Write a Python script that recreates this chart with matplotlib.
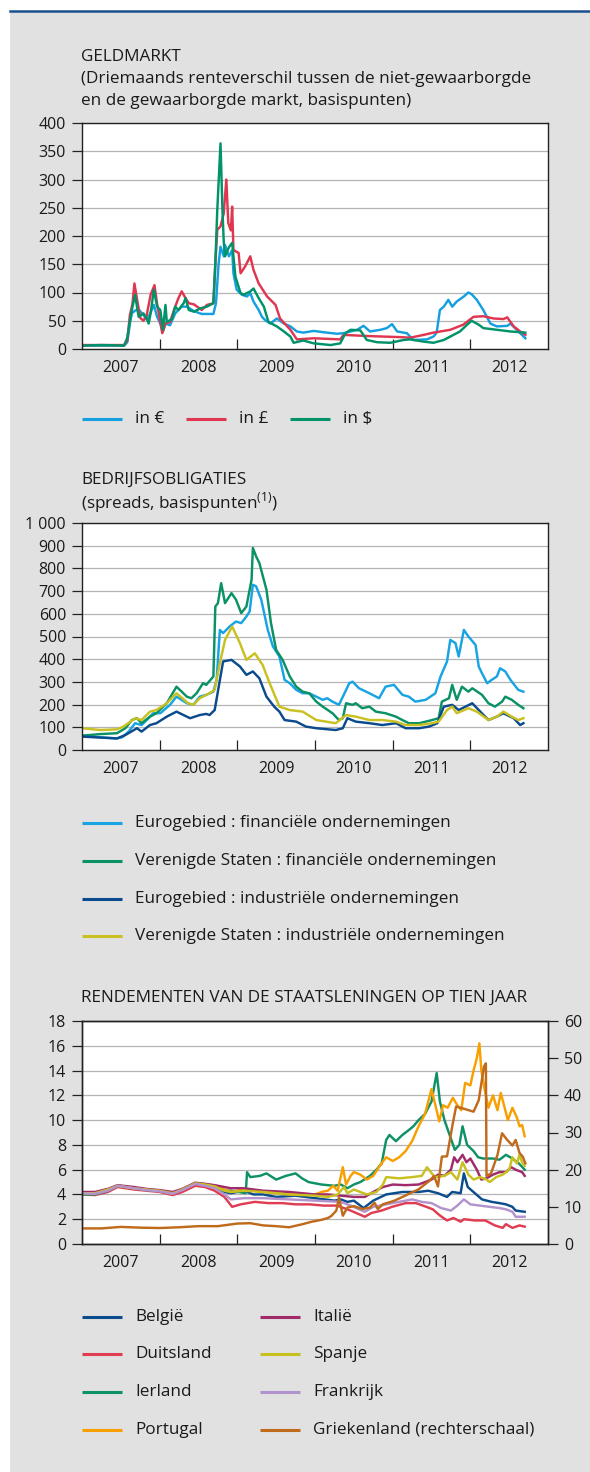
import numpy as np
import matplotlib
matplotlib.use("Agg")
import matplotlib.pyplot as plt
from matplotlib.lines import Line2D
from matplotlib.patches import Rectangle

plt.rcParams['font.family'] = ['Open Sans', 'DejaVu Sans']

# ---------------- DATA (months since Jan 2007, value) ----------------
years = [2007, 2008, 2009, 2010, 2011, 2012]

# GELDMARKT (basis points)
mm_eur = [(0,6),(3,6),(6.5,6),(7.0,12),(7.4,45),(7.7,63),(8.2,68),(8.75,70),(9.5,60),(10.0,52),(10.5,62),(11.1,78),(11.6,57),(12.1,45),(12.5,31),(12.9,45),(13.6,42),(14.4,63),(15.4,75),(16.2,75),(17.3,67),(18.5,62),(20.3,62),(20.7,81),(21.1,150),(21.4,181),(21.9,164),(22.1,184),(22.7,164),(23.2,175),(23.4,134),(23.9,105),(24.7,96),(25.5,93),(26.0,99),(26.5,84),(27.3,69),(27.8,57),(28.3,51),(29.1,45),(30.1,54),(31.2,45),(32.2,40),(33.2,31),(34.2,29),(35.8,32),(37.8,29),(39.4,27),(40.4,28),(41.5,31),(42.5,34),(43.5,41),(44.5,31),(46.1,34),(47.1,37),(47.9,44),(48.7,31),(50.2,28),(51.2,16),(53.3,17),(54.3,22),(54.8,29),(55.3,69),(55.9,75),(56.6,87),(57.2,75),(57.9,84),(59.0,93),(59.7,100),(60.2,97),(61.0,87),(62.0,69),(63.1,45),(64.1,40),(65.7,41),(66.2,45),(66.9,37),(67.7,28),(68.5,19)]
mm_gbp = [(0,7),(3,7),(6.5,7),(7.0,15),(7.4,60),(7.8,80),(8.1,116),(8.4,95),(9.0,55),(9.5,50),(10.0,60),(10.6,96),(11.2,113),(11.6,80),(12.4,28),(12.9,45),(13.6,48),(14.4,75),(14.9,90),(15.4,102),(16.0,90),(16.5,81),(17.3,79),(18.5,69),(19.3,78),(20.3,81),(20.6,150),(20.9,211),(21.4,217),(21.9,240),(22.3,300),(22.6,223),(23.0,210),(23.2,252),(23.4,175),(24.2,170),(24.5,134),(25.2,146),(26.0,164),(26.5,140),(27.3,116),(28.6,93),(29.9,78),(30.6,54),(32.2,34),(33.2,17),(35.8,19),(39.9,17),(40.4,25),(44.0,23),(49.2,21),(50.7,20),(52.8,25),(54.3,29),(56.9,34),(58.9,43),(60.5,57),(62.0,58),(63.6,54),(65.1,53),(65.7,56),(66.7,40),(67.7,31),(68.5,25)]
mm_usd = [(0,6),(3,7),(6.5,6),(7.0,20),(7.4,50),(7.7,69),(8.2,96),(8.75,57),(9.5,63),(10.0,54),(10.3,45),(10.6,63),(11.1,105),(11.6,75),(12.1,69),(12.5,34),(12.9,78),(13.1,48),(13.9,53),(14.4,75),(14.9,69),(15.7,81),(16.0,90),(16.5,69),(17.3,66),(18.3,72),(19.3,75),(20.3,81),(20.6,152),(20.9,246),(21.4,364),(21.7,246),(21.9,190),(22.1,164),(22.7,180),(23.2,188),(23.7,128),(24.5,99),(25.0,96),(26.0,102),(26.5,107),(27.3,90),(28.1,75),(28.8,48),(30.1,40),(31.2,31),(32.2,22),(32.7,11),(34.2,15),(35.8,10),(38.4,7),(39.9,10),(40.7,28),(41.5,34),(43.0,33),(44.0,16),(45.6,12),(47.6,11),(49.7,16),(50.7,17),(52.8,13),(54.3,11),(55.9,16),(56.9,22),(58.4,31),(59.5,43),(60.2,50),(61.3,43),(62.0,37),(64.1,34),(66.2,31),(68.5,29)]

# BEDRIJFSOBLIGATIES (basis points)
cb_ea_fin = [(0,63),(2.8,56),(5.4,51),(6.2,56),(7.2,81),(8.2,118),(9.2,110),(10.0,132),(11.0,162),(12.1,162),(13.6,199),(14.6,235),(16.2,206),(17.2,199),(18.2,235),(19.2,243),(20.3,257),(20.8,309),(21.3,529),(21.8,515),(22.8,544),(23.8,566),(24.6,559),(25.4,588),(25.9,610),(26.4,728),(26.9,721),(27.7,662),(28.7,529),(29.5,456),(30.5,412),(31.3,309),(32.1,294),(33.1,265),(34.1,250),(35.1,250),(36.2,235),(37.2,221),(37.9,228),(38.7,213),(39.7,199),(41.3,294),(41.8,301),(42.8,272),(44.4,250),(45.9,228),(46.9,279),(48.2,287),(49.5,243),(50.5,235),(51.5,213),(53.1,221),(54.6,250),(55.4,324),(56.4,390),(56.9,485),(57.7,471),(58.2,412),(59.0,529),(59.7,500),(60.8,463),(61.3,368),(61.8,338),(62.6,294),(63.3,309),(64.1,324),(64.6,360),(65.4,346),(66.2,309),(67.4,265),(68.2,257)]
cb_us_fin = [(0,63),(2.8,70),(5.4,74),(6.7,96),(7.7,132),(8.5,140),(9.2,118),(10.5,147),(11.5,162),(13.1,206),(14.6,279),(16.2,235),(16.9,228),(17.7,250),(18.7,294),(19.2,287),(20.3,324),(20.6,632),(21.0,647),(21.5,735),(22.1,647),(23.1,691),(23.8,662),(24.6,603),(25.4,632),(26.2,750),(26.4,890),(26.9,853),(27.4,824),(28.5,706),(29.2,559),(30.0,441),(31.0,397),(32.1,324),(33.1,279),(34.1,257),(35.1,250),(36.2,213),(37.2,191),(38.7,162),(39.7,132),(40.3,140),(40.8,206),(41.8,199),(42.3,206),(43.3,184),(44.4,191),(45.4,169),(46.9,162),(48.5,147),(49.5,132),(50.5,118),(52.1,118),(53.1,125),(54.1,132),(55.1,140),(55.6,213),(56.7,228),(57.2,287),(57.9,221),(58.7,279),(59.7,257),(60.3,272),(61.8,243),(62.8,206),(63.8,191),(64.9,213),(65.4,235),(66.4,221),(67.4,199),(68.2,184)]
cb_ea_ind = [(0,59),(5.4,51),(6.7,66),(8.5,96),(9.2,81),(10.5,110),(11.5,118),(13.1,147),(14.6,169),(16.7,140),(18.2,154),(19.2,159),(19.7,154),(20.5,176),(21.8,390),(23.1,397),(24.4,368),(25.4,331),(26.4,346),(27.4,316),(28.5,235),(29.7,191),(30.5,169),(31.3,132),(33.1,125),(34.6,103),(36.2,96),(39.2,88),(40.3,96),(41.0,140),(42.3,125),(44.4,118),(46.4,110),(48.5,118),(50.0,96),(52.1,96),(53.6,103),(54.9,118),(55.9,191),(57.2,199),(58.2,176),(60.3,206),(61.3,176),(62.8,132),(64.1,147),(65.1,162),(66.7,140),(67.7,110),(68.2,118)]
cb_us_ind = [(0,96),(2.8,88),(5.4,91),(6.4,103),(8.2,140),(9.2,132),(10.5,169),(11.5,176),(13.1,206),(14.6,250),(16.4,206),(17.2,199),(18.2,228),(19.7,250),(20.5,265),(21.3,382),(22.1,485),(23.2,544),(24.4,471),(25.4,397),(26.7,426),(27.9,375),(29.0,294),(30.5,191),(32.1,176),(34.1,169),(36.2,132),(39.2,118),(40.8,154),(42.3,147),(44.4,132),(46.4,132),(48.5,125),(50.0,110),(52.1,110),(54.1,118),(55.1,125),(56.4,176),(57.2,191),(57.9,162),(59.7,184),(61.0,169),(62.8,132),(64.1,147),(65.1,169),(66.4,147),(67.4,132),(68.2,140)]

# RENDEMENTEN STAATSLENINGEN 10 JAAR (%)
gb_be = [(0,4.1),(2,4.1),(4,4.4),(5.5,4.7),(8,4.5),(10,4.4),(12,4.3),(14,4.1),(15.5,4.4),(17.5,4.9),(19,4.8),(20.5,4.6),(22,4.2),(23,4.1),(25,4.3),(26.5,4.0),(28,4.0),(30,3.8),(33,3.9),(36,3.7),(39,3.5),(40,3.6),(41,3.4),(42,3.5),(43.5,2.9),(45,3.5),(47,4.0),(49.5,4.2),(52,4.2),(53.5,4.3),(55,4.1),(56.4,3.8),(57.2,4.2),(58.5,4.1),(59,5.7),(59.6,4.6),(60.7,4.1),(61.8,3.6),(63.3,3.4),(64.5,3.3),(65.5,3.2),(66.5,3.0),(67,2.7),(68.4,2.6)]
gb_de = [(0,4.0),(2,3.95),(4,4.2),(5.5,4.6),(8,4.4),(10,4.3),(12,4.2),(14,3.95),(15.5,4.2),(17.5,4.7),(19,4.6),(20.5,4.3),(22,3.8),(23.2,3.0),(24.5,3.2),(26.7,3.4),(28.8,3.3),(31,3.3),(33,3.2),(35.2,3.2),(37.3,3.1),(39.4,3.1),(41.5,2.7),(43.7,2.2),(44.7,2.5),(46.3,2.7),(47.9,3.0),(50,3.3),(51.6,3.3),(53.2,3.0),(54.2,2.8),(55.3,2.3),(56.4,1.9),(57.4,2.1),(58.5,1.8),(59,2.0),(60.7,1.9),(62.3,1.9),(63.8,1.5),(65,1.3),(65.5,1.6),(66.5,1.3),(67.6,1.5),(68.4,1.4)]
gb_ie = [(0,4.0),(2,4.0),(4,4.3),(5.5,4.7),(8,4.5),(10,4.35),(12,4.3),(14,4.1),(15.5,4.4),(17.5,4.9),(19,4.8),(20.5,4.6),(22,4.3),(23,4.3),(25.3,4.1),(25.5,5.8),(26,5.4),(27.5,5.5),(28.5,5.7),(30,5.2),(31.5,5.5),(33,5.7),(34,5.3),(35,5.0),(37,4.8),(39,4.7),(40,4.8),(41,4.5),(42,4.8),(43,5.0),(44.5,5.5),(45.5,6.0),(46.3,6.5),(47,8.4),(47.5,8.8),(48.5,8.3),(49.5,8.8),(50.5,9.2),(51.2,9.5),(52,10.0),(53,10.5),(54,11.5),(54.8,13.8),(55.3,11.5),(56,10.0),(57,8.5),(57.6,7.6),(58.3,8.0),(58.8,9.5),(59.5,8.0),(60.5,7.5),(61.2,7.0),(62,6.9),(63.5,6.9),(64.5,6.8),(65.5,7.2),(66.5,6.9),(67.5,6.5),(68.4,6.0)]
gb_pt = [(0,4.1),(2,4.1),(4,4.4),(5.5,4.7),(8,4.5),(10,4.4),(12,4.3),(14,4.1),(15.5,4.4),(17.5,4.9),(19,4.85),(20.5,4.7),(22,4.4),(23,4.2),(25,4.4),(28,4.2),(32,4.0),(36,4.0),(37,4.2),(38,4.3),(38.8,4.7),(39.5,4.3),(40.3,6.2),(40.8,4.8),(41.5,5.5),(42,5.8),(43,5.6),(44,5.2),(45,5.5),(46,6.3),(47,7.0),(48,6.7),(49,7.0),(50,7.5),(51,8.3),(52,9.5),(53,10.5),(54,12.5),(54.6,11.2),(55.2,9.9),(55.8,11.2),(56.5,11.0),(57.3,11.8),(58,11.2),(58.6,10.8),(59.2,13.0),(60,12.8),(60.5,14.0),(61,15.0),(61.4,16.2),(61.7,14.0),(62.2,12.5),(62.8,11.0),(63.5,12.0),(64.2,10.8),(64.7,12.2),(65.3,11.0),(65.8,10.0),(66.5,11.0),(67.2,10.2),(67.6,9.5),(68.0,9.6),(68.4,8.7)]
gb_it = [(0,4.2),(2,4.2),(4,4.45),(5.5,4.75),(8,4.6),(10,4.45),(12,4.35),(14,4.2),(15.5,4.45),(17.5,4.95),(19,4.85),(20.5,4.75),(22,4.6),(23,4.5),(25,4.5),(28,4.3),(32,4.2),(36,4.0),(38,4.0),(40,3.9),(42,3.8),(43.7,3.8),(45,4.2),(46.5,4.6),(48,4.8),(50,4.75),(52,4.8),(53,5.0),(54,5.2),(55,5.6),(56,5.5),(57,6.0),(57.5,7.0),(58,6.6),(58.8,7.2),(59.4,6.6),(60,6.9),(61,6.0),(61.7,5.2),(62.5,5.3),(63.5,5.6),(64.5,5.8),(65.5,5.8),(66.3,6.2),(67,6.0),(68,5.8),(68.4,5.5)]
gb_es = [(0,4.1),(2,4.1),(4,4.4),(5.5,4.7),(8,4.5),(10,4.4),(12,4.3),(14,4.1),(15.5,4.4),(17.5,4.9),(19,4.8),(20.5,4.65),(22,4.3),(23,4.2),(25,4.3),(28,4.2),(32,4.0),(36,3.9),(38,3.8),(39.5,4.0),(40.5,4.6),(41,4.1),(42,4.4),(44,4.0),(45.5,4.2),(46.5,4.8),(47,5.4),(49,5.3),(51,5.4),(52.5,5.5),(53.3,6.2),(54.5,5.4),(56,5.5),(57,5.8),(58,5.2),(58.8,6.6),(59.7,5.6),(60.5,5.2),(61.5,5.4),(62.5,5.2),(63,5.0),(64,5.4),(65,5.6),(66,6.0),(66.5,7.0),(67.2,6.5),(67.6,7.2),(68,6.6),(68.4,6.3)]
gb_fr = [(0,4.1),(2,4.05),(4,4.3),(5.5,4.7),(8,4.5),(10,4.35),(12,4.25),(14,4.05),(15.5,4.35),(17.5,4.85),(19,4.7),(20.5,4.5),(22,4.0),(23,3.6),(25,3.7),(28,3.7),(32,3.6),(36,3.5),(40,3.4),(41.5,3.1),(43.7,2.6),(45,3.0),(47,3.2),(49,3.4),(51,3.6),(52.5,3.4),(54,3.3),(55.5,2.9),(57,2.7),(58,3.1),(59,3.6),(60,3.2),(61.5,3.1),(63,3.0),(64.5,2.9),(65.5,2.8),(66.5,2.6),(67,2.2),(68.4,2.2)]
gb_gr = [(0,4.2),(3,4.2),(6,4.6),(9,4.4),(12,4.3),(15,4.5),(18,4.8),(21,4.8),(24,5.5),(26,5.6),(28,5.0),(30,4.8),(32,4.5),(34,5.3),(35.5,6.0),(37,6.5),(38,7.0),(38.5,7.5),(39.3,9.0),(39.7,12.5),(40.3,7.6),(41,9.8),(42,10.2),(43.3,9.4),(44.5,9.8),(45.2,11.1),(45.7,9.4),(46.5,10.7),(48.2,11.6),(49.8,12.9),(52,14.7),(53.6,16.9),(54.4,18.3),(55,15.5),(55.6,23.5),(56.4,23.6),(57.2,31.6),(57.8,37.0),(58.8,36.5),(60.5,35.6),(61.3,38.7),(62.1,47.7),(62.4,48.6),(62.5,18.3),(63.2,19.0),(64.2,24.0),(64.9,29.8),(65.7,28.0),(66.5,26.5),(67.0,28.0),(67.6,24.5),(68.1,23.5),(68.5,21.7)]

# ---------------- STYLE ----------------
W, H = 590, 1472
FS = 11.5      # tick labels
FT = 12.3      # titles and legend text
TXT = '#1a1a1a'
BG = '#e1e1e1'

fig = plt.figure(figsize=(W / 100, H / 100), dpi=100)
fig.patch.set_facecolor('white')
fig.add_artist(Rectangle((10 / W, 0), (W - 10) / W, (H - 12) / H, transform=fig.transFigure,
                         facecolor=BG, edgecolor='none', zorder=0))
fig.add_artist(Line2D([10 / W, 1], [1 - 11 / H] * 2, transform=fig.transFigure,
                      color='#1a4f8f', lw=1.8, zorder=1))


def px_axes(l, t, r, b):
    return fig.add_axes([l / W, 1 - b / H, (r - l) / W, (b - t) / H])


def fx(x):
    return x / W


def fy(y):
    return 1 - y / H


def series_xy(pairs):
    a = np.array(pairs, dtype=float)
    return 2007 + a[:, 0] / 12.0, a[:, 1]


def style(ax, ymax, step, labels=None):
    ax.set_facecolor('white')
    ax.set_xlim(2007, 2013)
    ax.set_ylim(0, ymax)
    yt = np.arange(0, ymax + step / 2, step)
    ax.set_yticks(yt)
    if labels is not None:
        ax.set_yticklabels(labels)
    ax.yaxis.grid(True, color='#b4b4b4', lw=0.9)
    ax.set_axisbelow(True)
    ax.set_xticks(years[1:])
    ax.set_xticks([y + 0.5 for y in years], minor=True)
    ax.set_xticklabels([str(y) for y in years], minor=True)
    ax.tick_params(axis='x', which='major', direction='in', length=7.5, width=0.9,
                   labelbottom=False, color='#222222')
    ax.tick_params(axis='x', which='minor', length=0, pad=8, labelsize=FS, labelcolor=TXT)
    ax.tick_params(axis='y', direction='out', length=7.5, width=0.9, pad=4,
                   labelsize=FS, labelcolor=TXT, color='#222222')
    for s in ax.spines.values():
        s.set_linewidth(1.0)
        s.set_color('#222222')


def legend_item(x, y, color, label):
    fig.add_artist(Line2D([fx(x), fx(x + 40)], [fy(y)] * 2, transform=fig.transFigure,
                          color=color, lw=2.2, solid_capstyle='butt'))
    fig.text(fx(x + 53), fy(y), label, fontsize=FT, color=TXT, va='center', ha='left')


LW = 1.75

# ---------------- PANEL 1 ----------------
C_EUR, C_GBP, C_USD = '#14a0e0', '#e03650', '#00936a'
fig.text(fx(81), fy(57), 'GELDMARKT', fontsize=FT, color=TXT, va='center')
fig.text(fx(81), fy(79), '(Driemaands renteverschil tussen de niet-gewaarborgde', fontsize=FT, color=TXT, va='center')
fig.text(fx(81), fy(101), 'en de gewaarborgde markt, basispunten)', fontsize=FT, color=TXT, va='center')

ax1 = px_axes(82, 123, 548, 349)
style(ax1, 400, 50)
for data, c in [(mm_eur, C_EUR), (mm_gbp, C_GBP), (mm_usd, C_USD)]:
    x, y = series_xy(data)
    ax1.plot(x, y, color=c, lw=LW)

legend_item(82, 419, C_EUR, 'in €')
legend_item(186, 419, C_GBP, 'in £')
legend_item(290, 419, C_USD, 'in $')

# ---------------- PANEL 2 ----------------
C_EAF, C_USF, C_EAI, C_USI = '#18a3e3', '#0a9166', '#0b4a8c', '#c9c021'
fig.text(fx(81), fy(480), 'BEDRIJFSOBLIGATIES', fontsize=FT, color=TXT, va='center')
fig.text(fx(81), fy(503), r'(spreads, basispunten$^{\mathregular{(1)}}$)', fontsize=FT, color=TXT, va='center')

ax2 = px_axes(82, 523, 548, 750)
style(ax2, 1000, 100, ['0', '100', '200', '300', '400', '500', '600', '700', '800', '900', '1 000'])
for data, c in [(cb_ea_fin, C_EAF), (cb_us_fin, C_USF), (cb_ea_ind, C_EAI), (cb_us_ind, C_USI)]:
    x, y = series_xy(data)
    ax2.plot(x, y, color=c, lw=LW)

legend_item(82, 823, C_EAF, 'Eurogebied : financiële ondernemingen')
legend_item(82, 861, C_USF, 'Verenigde Staten : financiële ondernemingen')
legend_item(82, 899, C_EAI, 'Eurogebied : industriële ondernemingen')
legend_item(82, 936, C_USI, 'Verenigde Staten : industriële ondernemingen')

# ---------------- PANEL 3 ----------------
C_BE, C_DE, C_IE, C_PT = '#0b4c8c', '#e03c52', '#0f9168', '#f7a000'
C_IT, C_ES, C_FR, C_GR = '#a02a6a', '#c8c020', '#b393cc', '#c06a1c'
fig.text(fx(81), fy(998), 'RENDEMENTEN VAN DE STAATSLENINGEN OP TIEN JAAR', fontsize=FT, color=TXT, va='center')

ax3 = px_axes(82, 1021, 548, 1244)
style(ax3, 18, 2)
for data, c in [(gb_be, C_BE), (gb_de, C_DE), (gb_ie, C_IE), (gb_pt, C_PT),
                (gb_it, C_IT), (gb_es, C_ES), (gb_fr, C_FR)]:
    x, y = series_xy(data)
    ax3.plot(x, y, color=c, lw=LW)
ax3r = ax3.twinx()
ax3r.set_ylim(0, 60)
ax3r.set_yticks(np.arange(0, 61, 10))
ax3r.tick_params(axis='y', direction='out', length=7.5, width=0.9, pad=4,
                 labelsize=FS, labelcolor=TXT, color='#222222')
for s in ax3r.spines.values():
    s.set_linewidth(1.0)
    s.set_color('#222222')
x, y = series_xy(gb_gr)
ax3r.plot(x, y, color=C_GR, lw=LW)

legend_item(82, 1317, C_BE, 'België')
legend_item(82, 1354, C_DE, 'Duitsland')
legend_item(82, 1392, C_IE, 'Ierland')
legend_item(82, 1430, C_PT, 'Portugal')
legend_item(260, 1317, C_IT, 'Italië')
legend_item(260, 1354, C_ES, 'Spanje')
legend_item(260, 1392, C_FR, 'Frankrijk')
legend_item(260, 1430, C_GR, 'Griekenland (rechterschaal)')

fig.savefig('out.png', dpi=100, facecolor=fig.get_facecolor())
